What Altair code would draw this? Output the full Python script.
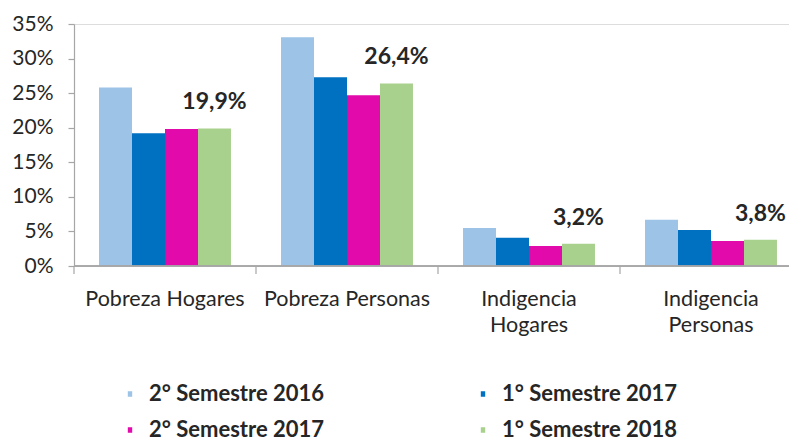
import altair as alt
import pandas as pd

categories = ["Pobreza Hogares", "Pobreza Personas", "Indigencia Hogares", "Indigencia Personas"]
series = ["2° Semestre 2016", "1° Semestre 2017", "2° Semestre 2017", "1° Semestre 2018"]
colors = ["#9DC3E6", "#0070C0", "#E20AAA", "#A9D18E"]
values = {
    "2° Semestre 2016": [25.8, 33.1, 5.5, 6.7],
    "1° Semestre 2017": [19.2, 27.3, 4.1, 5.2],
    "2° Semestre 2017": [19.8, 24.7, 2.9, 3.6],
    "1° Semestre 2018": [19.9, 26.4, 3.2, 3.8],
}
y_ticks = [0, 5, 10, 15, 20, 25, 30, 35]

rows = []
for s in series:
    for c, v in zip(categories, values[s]):
        rows.append({"cat": c, "serie": s, "v": v})
df = pd.DataFrame(rows)
cat_df = pd.DataFrame({"cat": categories})

FONT = "Lato"
TXT = "#262626"
AXC = "#A6A6A6"
W, H = 715, 242
RANGE = 728

x_bar = alt.X(
    "cat:N",
    sort=categories,
    scale=alt.Scale(range=[0, RANGE], paddingInner=0.275, paddingOuter=0.1375),
    axis=alt.Axis(
        title=None, ticks=False, domain=False, labelAngle=0,
        labelFont=FONT, labelFontSize=21.5, labelColor=TXT, labelPadding=22,
        labelLineHeight=26,
        labelExpr="indexof(datum.value, 'Indigencia') == 0 ? split(datum.value, ' ') : datum.value",
    ),
)
y_enc = alt.Y(
    "v:Q",
    scale=alt.Scale(domain=[0, 35], nice=False),
    axis=alt.Axis(
        title=None, values=y_ticks, grid=False, labelExpr="datum.value + '%'",
        labelFont=FONT, labelFontSize=21, labelColor=TXT, labelPadding=15,
        domainColor=AXC, tickColor=AXC, tickSize=6, domainWidth=1.2, tickWidth=1.2,
    ),
)
xoff = alt.XOffset("serie:N", sort=series, scale=alt.Scale(paddingInner=0, paddingOuter=0))

bars = alt.Chart(df).mark_bar(size=33).encode(
    x=x_bar,
    xOffset=xoff,
    y=y_enc,
    color=alt.Color(
        "serie:N", sort=series,
        scale=alt.Scale(domain=series, range=colors),
        legend=alt.Legend(
            title=None, orient="none", legendX=45, legendY=359, columns=2,
            direction="horizontal",
            symbolType="M-0.4,-0.5H0.4V0.5H-0.4Z", symbolSize=121, symbolStrokeWidth=0,
            labelFont=FONT, labelFontSize=22, labelFontWeight="bold", labelColor=TXT,
            columnPadding=147, rowPadding=14, labelOffset=8, labelLimit=400,
        ),
    ),
)

labels = alt.Chart(df).transform_filter(
    alt.datum.serie == series[-1]
).transform_calculate(
    lbl="replace(format(datum.v, '.1f'), '.', ',') + '%'"
).mark_text(
    font=FONT, fontSize=23, fontWeight="bold", color=TXT, baseline="alphabetic", dy=-19
).encode(
    x=x_bar, xOffset=xoff, y=y_enc, text="lbl:N"
)

main = alt.layer(bars, labels)

ticks = alt.Chart(cat_df).mark_rule(color=AXC, strokeWidth=1.2).encode(
    x=alt.X("cat:N", sort=categories, bandPosition=0,
            scale=alt.Scale(range=[0, RANGE], paddingInner=0, paddingOuter=0), axis=None),
    y=alt.value(H),
    y2=alt.value(H + 8),
)

xline = alt.Chart(cat_df).mark_rule(color=AXC, strokeWidth=1.2).encode(
    x=alt.value(0), x2=alt.value(W), y=alt.value(H),
)

chart = alt.layer(main, ticks, xline).resolve_scale(x="independent").properties(
    width=W, height=H,
    autosize=alt.AutoSizeParams(type="none"),
    padding={"left": 74, "top": 24, "right": 0, "bottom": 176},
).configure_view(stroke=None).configure(background="white")

chart.save("out.html", embed_options={"renderer": "svg", "actions": False})
